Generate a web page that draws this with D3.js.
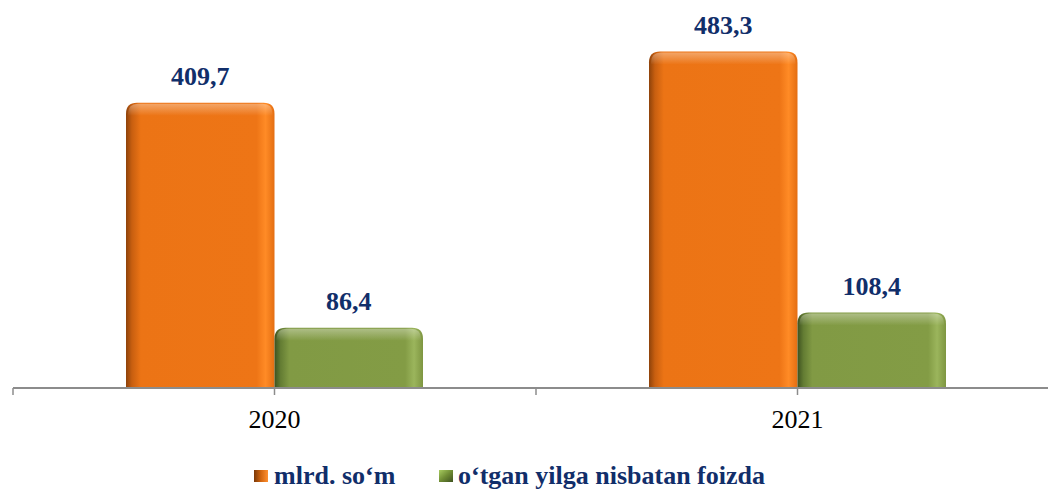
<!DOCTYPE html>
<html>
<head>
<meta charset="utf-8">
<script src="https://cdn.jsdelivr.net/npm/d3@7"></script>
<style>
  html, body { margin: 0; padding: 0; background: #ffffff; }
  svg { display: block; }
</style>
</head>
<body>
<svg id="chart" width="1048" height="490"></svg>
<script>
// ---- data ----
const categories = ["2020", "2021"];
const seriesNames = ["mlrd. so‘m", "o‘tgan yilga nisbatan foizda"];
const seriesKeys = ["mlrd", "foiz"];
const mlrdValues = [409.7, 483.3];
const foizValues = [86.4, 108.4];
const valueLabels = [["409,7", "483,3"], ["86,4", "108,4"]];

const rows = categories.map((c, i) => ({
  cat: c,
  values: [
    { key: "mlrd", v: mlrdValues[i], label: valueLabels[0][i] },
    { key: "foiz", v: foizValues[i], label: valueLabels[1][i] }
  ]
}));

// ---- layout ----
const svg = d3.select("#chart");
const baseY = 388;
const x0 = d3.scaleBand().domain(categories).range([13, 1059]).paddingInner(0).paddingOuter(0);
const groupPad = 113;
const x1 = d3.scaleBand().domain(seriesKeys).range([groupPad, x0.bandwidth() - groupPad]).padding(0);
const y = d3.scaleLinear().domain([0, 550]).range([baseY, baseY - 0.696 * 550]);

const navy = "#112E6A";
const fontFam = "'Liberation Serif', 'Times New Roman', Times, serif";

// ---- gradients ----
const defs = svg.append("defs");
function hGrad(id, stops) {
  const g = defs.append("linearGradient").attr("id", id)
    .attr("x1", "0%").attr("x2", "100%").attr("y1", "0%").attr("y2", "0%");
  stops.forEach(s => g.append("stop").attr("offset", s[0]).attr("stop-color", s[1]));
}
hGrad("g-mlrd", [["0%", "#8E420A"], ["4%", "#C85F10"], ["10%", "#EC7415"], ["88%", "#EE7516"], ["94%", "#FF8B26"], ["100%", "#E46E12"]]);
hGrad("g-foiz", [["0%", "#3E5220"], ["4%", "#637C33"], ["10%", "#819A44"], ["88%", "#839C45"], ["94%", "#9BB55C"], ["100%", "#7E9641"]]);

const topGrad = defs.append("linearGradient").attr("id", "g-top")
  .attr("x1", "0%").attr("x2", "0%").attr("y1", "0%").attr("y2", "100%");
topGrad.append("stop").attr("offset", "0%").attr("stop-color", "#ffffff").attr("stop-opacity", 0.35);
topGrad.append("stop").attr("offset", "100%").attr("stop-color", "#ffffff").attr("stop-opacity", 0);

const lg1 = defs.append("linearGradient").attr("id", "lg-mlrd").attr("x1", "0%").attr("x2", "100%").attr("y1", "0%").attr("y2", "0%");
lg1.append("stop").attr("offset", "0%").attr("stop-color", "#7A3808");
lg1.append("stop").attr("offset", "50%").attr("stop-color", "#D2650F");
lg1.append("stop").attr("offset", "100%").attr("stop-color", "#FF9030");
const lg2 = defs.append("linearGradient").attr("id", "lg-foiz").attr("x1", "0%").attr("x2", "100%").attr("y1", "0%").attr("y2", "100%");
lg2.append("stop").attr("offset", "0%").attr("stop-color", "#A8CC60");
lg2.append("stop").attr("offset", "50%").attr("stop-color", "#6F8C34");
lg2.append("stop").attr("offset", "100%").attr("stop-color", "#3E5220");

function roundTop(x, yTop, w, h, r) {
  r = Math.min(r, w / 2, h);
  return `M${x},${yTop + h}V${yTop + r}Q${x},${yTop} ${x + r},${yTop}H${x + w - r}Q${x + w},${yTop} ${x + w},${yTop + r}V${yTop + h}Z`;
}

// ---- bars ----
const groups = svg.append("g").selectAll("g.grp").data(rows).join("g")
  .attr("class", "grp")
  .attr("transform", d => `translate(${x0(d.cat)},0)`);

groups.selectAll("path.bar").data(d => d.values).join("path")
  .attr("class", "bar")
  .attr("d", d => roundTop(x1(d.key), y(d.v), x1.bandwidth(), baseY - y(d.v), 11))
  .attr("fill", d => `url(#g-${d.key})`);

groups.selectAll("path.hl").data(d => d.values).join("path")
  .attr("class", "hl")
  .attr("d", d => roundTop(x1(d.key) + 2, y(d.v) + 1, x1.bandwidth() - 4, 12, 10))
  .attr("fill", "url(#g-top)");

groups.selectAll("text.val").data(d => d.values).join("text")
  .attr("class", "val")
  .attr("x", d => x1(d.key) + x1.bandwidth() / 2)
  .attr("y", d => y(d.v) - 18)
  .attr("text-anchor", "middle")
  .attr("font-family", fontFam)
  .attr("font-weight", "bold")
  .attr("font-size", 26)
  .attr("fill", navy)
  .text(d => d.label);

// ---- axis ----
const axisG = svg.append("g");
axisG.append("line")
  .attr("x1", 13).attr("x2", 1048)
  .attr("y1", baseY).attr("y2", baseY)
  .attr("stroke", "#8C8C8C").attr("stroke-width", 2);

const tickXs = [];
categories.forEach(c => { tickXs.push(x0(c)); tickXs.push(x0(c) + x0.bandwidth() / 2); });
axisG.selectAll("line.tick").data(tickXs).join("line")
  .attr("class", "tick")
  .attr("x1", d => d).attr("x2", d => d)
  .attr("y1", baseY).attr("y2", baseY + 7)
  .attr("stroke", "#8C8C8C").attr("stroke-width", 1.5);

axisG.selectAll("text.cat").data(categories).join("text")
  .attr("class", "cat")
  .attr("x", d => x0(d) + x0.bandwidth() / 2)
  .attr("y", 428)
  .attr("text-anchor", "middle")
  .attr("font-family", fontFam)
  .attr("font-size", 26)
  .attr("fill", "#000")
  .text(d => d);

// ---- legend ----
const legendItems = [
  { key: "mlrd", name: seriesNames[0], mx: 254, tx: 274 },
  { key: "foiz", name: seriesNames[1], mx: 439, tx: 458 }
];
const leg = svg.append("g").selectAll("g").data(legendItems).join("g");
leg.append("rect")
  .attr("x", d => d.mx).attr("y", 470)
  .attr("width", 14).attr("height", 12)
  .attr("fill", d => `url(#lg-${d.key})`);
leg.append("text")
  .attr("x", d => d.tx).attr("y", 484)
  .attr("font-family", fontFam)
  .attr("font-weight", "bold")
  .attr("font-size", 26)
  .attr("fill", navy)
  .text(d => d.name);
</script>
</body>
</html>
